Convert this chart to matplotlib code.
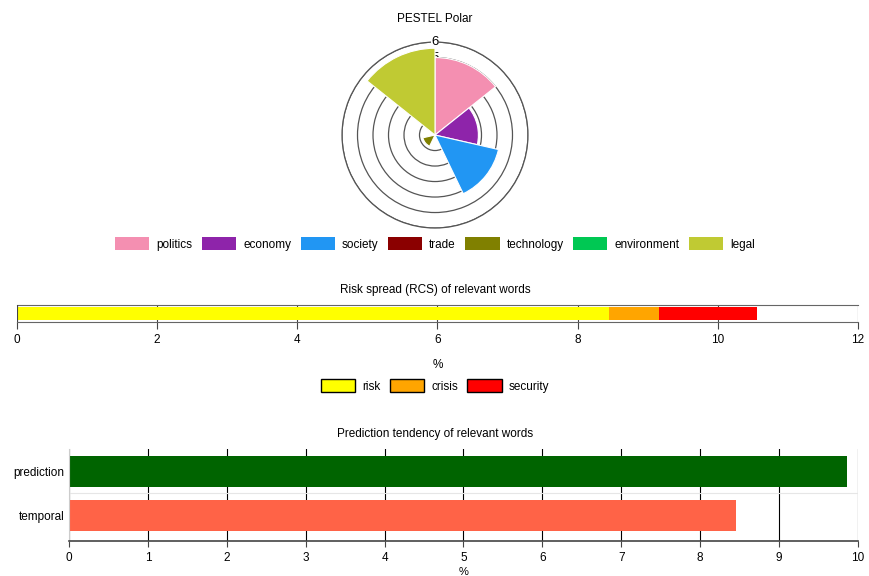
import matplotlib.pyplot as plt
import numpy as np
from matplotlib.patches import Patch

plt.rcParams['font.family'] = ['Liberation Sans', 'DejaVu Sans']

# PESTEL polar data
pestel_labels = ['politics', 'economy', 'society', 'trade', 'technology', 'environment', 'legal']
pestel_values = [5.0, 2.8, 4.2, 0.0, 0.8, 0.0, 5.6]
pestel_colors = ['#f48fb1', '#8e24aa', '#2196f3', '#8b0000', '#808000', '#00c853', '#c0ca33']
ring_ticks = [1, 2, 3, 4, 5, 6]

# Risk spread data (stacked)
risk_labels = ['risk', 'crisis', 'security']
risk_values = [8.45, 0.71, 1.40]
risk_colors = ['#ffff00', '#ffa500', '#ff0000']

# Prediction tendency data
pred_labels = ['prediction', 'temporal']
pred_values = [9.86, 8.45]
pred_colors = ['#006400', '#ff6347']

fig = plt.figure(figsize=(8.7, 5.76), dpi=100)
fs = 8.5

# ---- polar chart ----
ax1 = fig.add_axes([0.3931, 0.6041, 0.2138, 0.3229], projection='polar')
n = len(pestel_values)
width = 2 * np.pi / n
theta = np.arange(n) * width + width / 2
ax1.set_theta_zero_location('N')
ax1.set_theta_direction(-1)
ax1.bar(theta, pestel_values, width=width, color=pestel_colors, edgecolor='white', linewidth=0.8, zorder=3)
ax1.set_ylim(0, 6)
ax1.set_rticks(ring_ticks)
ax1.set_yticklabels([])
ax1.set_xticks([])
ax1.grid(True, color='#555555', linewidth=0.9)
ax1.spines['polar'].set_color('#555555')
ax1.spines['polar'].set_linewidth(0.9)
# ring labels at the top: the small ones sit under the sectors
for r in ring_ticks:
    z = 5 if r == ring_ticks[-1] else 1
    ax1.text(0, r, str(r), ha='center', va='center', fontsize=9.5, zorder=z,
             bbox=dict(facecolor='white', edgecolor='none', pad=0.3))
fig.text(0.5, 1 - 19 / 576, 'PESTEL Polar', ha='center', va='center', fontsize=fs)

handles = [Patch(facecolor=c, edgecolor='none', label=l) for l, c in zip(pestel_labels, pestel_colors)]
fig.legend(handles=handles, loc='center', bbox_to_anchor=(0.5, 1 - 244 / 576), ncol=7, frameon=False,
           fontsize=fs, handlelength=2.9, handleheight=1.25, columnspacing=0.8, handletextpad=0.6)

# ---- risk spread stacked bar ----
ax2 = fig.add_axes([0.0195, 0.4410, 0.9667, 0.0295])
left = 0
for v, c, l in zip(risk_values, risk_colors, risk_labels):
    ax2.barh([0], [v], left=left, height=0.75, color=c, label=l, zorder=2)
    left += v
ax2.set_xlim(0, 12)
ax2.set_ylim(-0.5, 0.5)
ax2.set_xticks(np.arange(0, 13, 2))
ax2.set_yticks([])
ax2.tick_params(axis='x', labelsize=fs, length=5, color='#444444', pad=4)
ax2.grid(True, axis='x', color='#444444', linewidth=0.8, zorder=1)
for s in ax2.spines.values():
    s.set_color('#666666')
ax2.spines['left'].set_visible(False)
ax2.spines['right'].set_visible(False)
ax2.axvline(0, color='#444444', linewidth=0.8, zorder=3)
ax2.set_xlabel('%', fontsize=fs, labelpad=9)
fig.text(0.5, 1 - 290 / 576, 'Risk spread (RCS) of relevant words', ha='center', va='center', fontsize=fs)

handles = [Patch(facecolor=c, edgecolor='black', label=l) for l, c in zip(risk_labels, risk_colors)]
fig.legend(handles=handles, loc='center', bbox_to_anchor=(0.5, 1 - 386 / 576), ncol=3, frameon=False,
           fontsize=fs, handlelength=2.9, handleheight=1.2, columnspacing=0.8, handletextpad=0.6)

# ---- prediction tendency ----
ax3 = fig.add_axes([0.0793, 0.0608, 0.9069, 0.1597])
y = np.arange(len(pred_values))
ax3.barh(y, pred_values, height=0.7, color=pred_colors, zorder=2)
ax3.set_xlim(0, 10)
ax3.set_ylim(1.58, -0.5)
ax3.set_xticks(np.arange(0, 11, 1))
ax3.set_yticks(y)
ax3.set_yticklabels(pred_labels, fontsize=fs)
ax3.set_yticks([0.5], minor=True)
ax3.tick_params(axis='y', which='both', length=0)
ax3.tick_params(axis='x', labelsize=fs, length=4, color='#444444', pad=4)
ax3.grid(True, axis='x', color='black', linewidth=0.8, zorder=1)
ax3.grid(True, axis='y', which='minor', color='#e6e6e6', linewidth=0.8)
ax3.spines['top'].set_visible(False)
ax3.spines['right'].set_visible(False)
ax3.spines['left'].set_color('#cccccc')
ax3.spines['bottom'].set_color('#444444')
ax3.spines['bottom'].set_linewidth(1.2)
ax3.set_xlabel('%', fontsize=8, va='center')
ax3.xaxis.set_label_coords(0.5, -0.34)
fig.text(0.5, 1 - 434 / 576, 'Prediction tendency of relevant words', ha='center', va='center', fontsize=fs)

fig.savefig('out.png', dpi=100)
